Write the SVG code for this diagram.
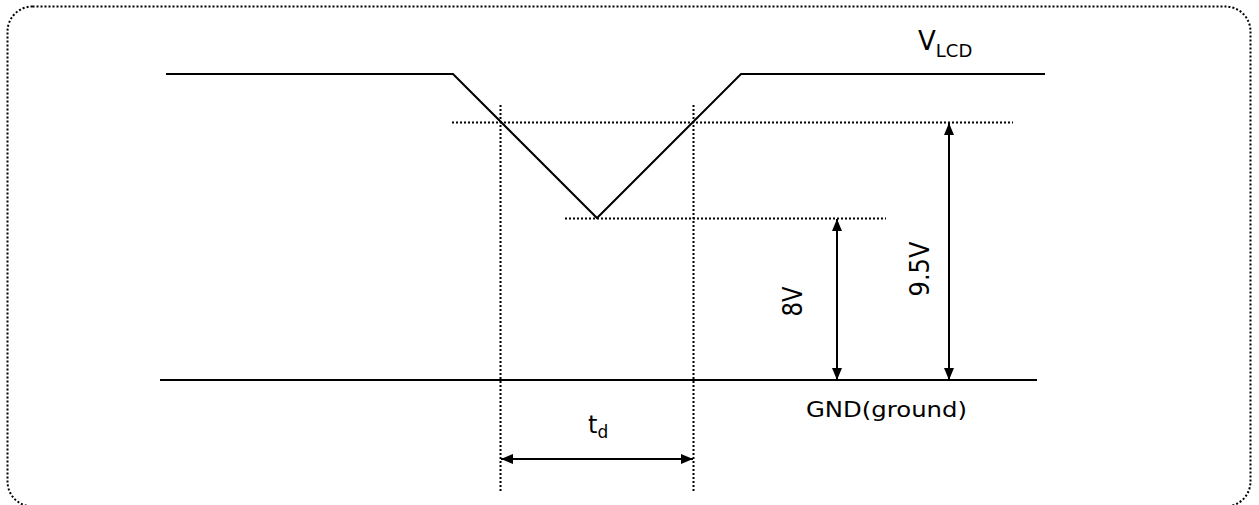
<svg xmlns="http://www.w3.org/2000/svg" width="1259" height="505" viewBox="0 0 1259 505">
<style>
.sig{fill:none;stroke:#000;stroke-width:2}
.dot{fill:none;stroke:#000;stroke-width:2;stroke-dasharray:2 2}
.arr{fill:none;stroke:#000;stroke-width:2;marker-start:url(#ah);marker-end:url(#ah)}
text{font-family:"DejaVu Sans","Verdana",sans-serif;fill:#000}
</style>
<defs>
<marker id="ah" viewBox="0 0 12 10" refX="12" refY="5" markerWidth="12" markerHeight="10" markerUnits="userSpaceOnUse" orient="auto-start-reverse">
<path d="M0,0 L12,5 L0,10 Z" fill="#000"/>
</marker>
</defs>
<rect x="7.5" y="6.5" width="1243" height="500" rx="25" fill="none" stroke="#000" stroke-width="2" stroke-dasharray="2 2"/>
<g id="connectors">
<path class="dot" d="M452,122.5 H1013"/>
<path class="dot" d="M565,218.5 H886"/>
<path class="dot" d="M500.5,105 V492"/>
<path class="dot" d="M693.5,105 V492"/>
<path class="arr" d="M837,219 V380"/>
<path class="arr" d="M949,123 V380"/>
<path class="arr" d="M501,459 H693"/>
</g>
<g id="vlcd">
<path class="sig" d="M166,74 H453 L597,218 L741,74 H1045"/>
<text x="918" y="50" font-size="26">V<tspan font-size="18" dy="7">LCD</tspan></text>
</g>
<g id="gnd">
<path class="sig" d="M160,380 H1037"/>
<text x="806" y="417" font-size="21.5" textLength="161" lengthAdjust="spacingAndGlyphs">GND(ground)</text>
</g>
<g id="label-8v">
<text transform="translate(802,301.5) rotate(-90)" font-size="27" text-anchor="middle" textLength="30" lengthAdjust="spacingAndGlyphs">8V</text>
</g>
<g id="label-95v">
<text transform="translate(929,269) rotate(-90)" font-size="26.5" text-anchor="middle" textLength="55" lengthAdjust="spacingAndGlyphs">9.5V</text>
</g>
<g id="label-td">
<text x="588" y="433" font-size="24">t<tspan font-size="17" dy="5">d</tspan></text>
</g>
</svg>
